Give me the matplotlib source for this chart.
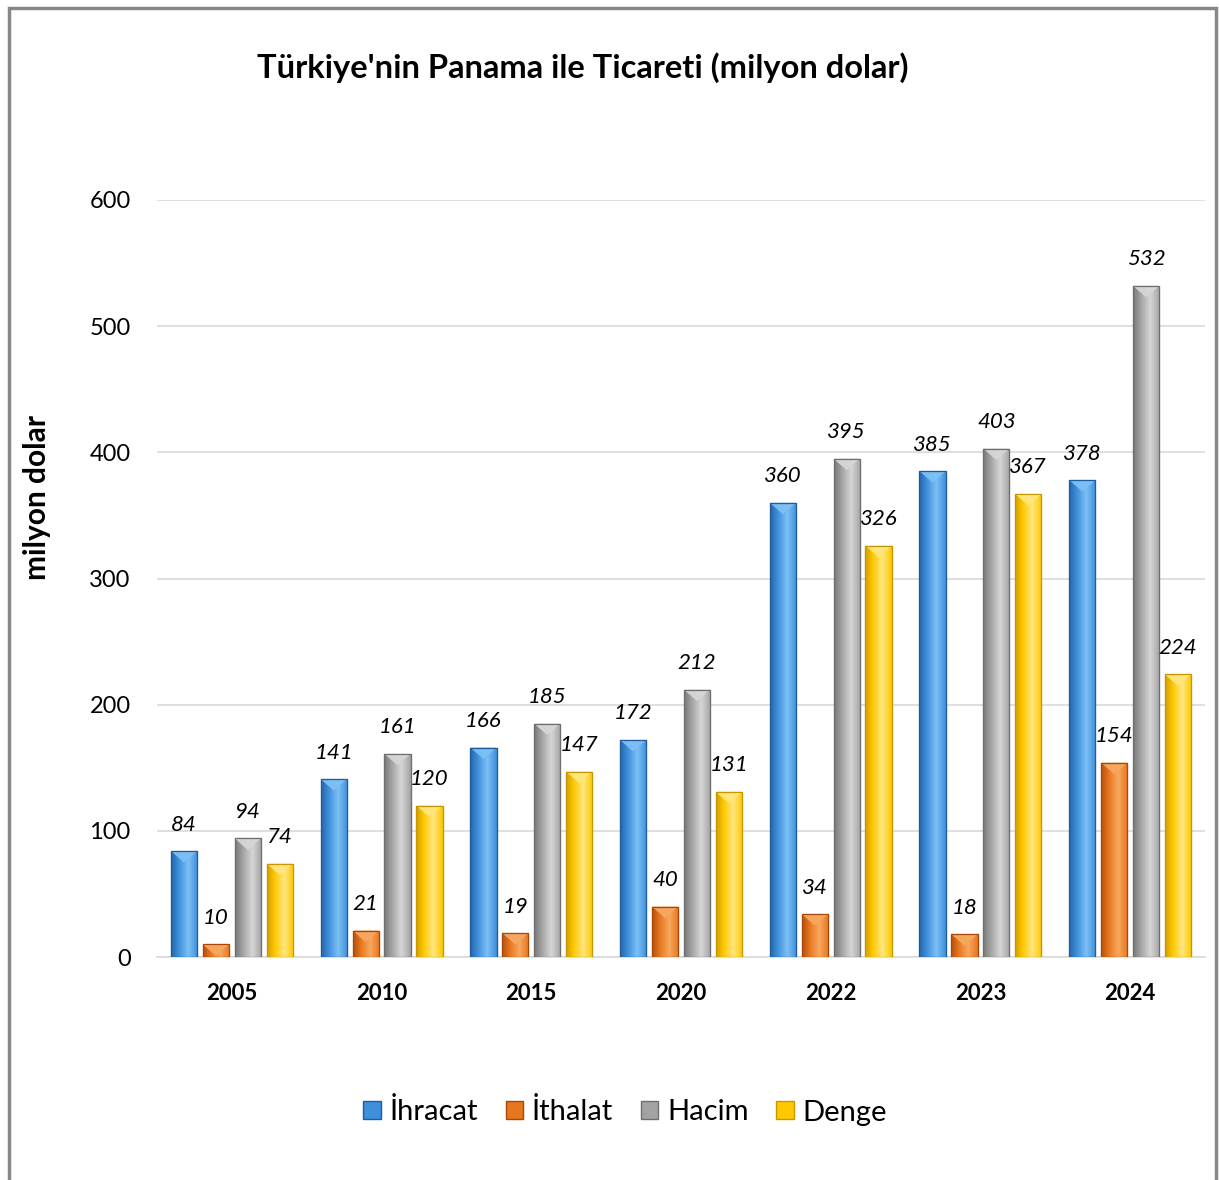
import numpy as np
import matplotlib.pyplot as plt
from matplotlib.patches import Rectangle, Polygon
from matplotlib.colors import LinearSegmentedColormap

years = ["2005", "2010", "2015", "2020", "2022", "2023", "2024"]
ihracat = [84, 141, 166, 172, 360, 385, 378]
ithalat = [10, 21, 19, 40, 34, 18, 154]
hacim = [94, 161, 185, 212, 395, 403, 532]
denge = [74, 120, 147, 131, 326, 367, 224]

series_names = ["İhracat", "İthalat", "Hacim", "Denge"]
series_vals = [ihracat, ithalat, hacim, denge]
# (dark edge, mid, light) for each series
palettes = [
    ("#1f5c9e", "#3f8fdb", "#7cc0f5"),
    ("#a8470a", "#e8761e", "#f7a860"),
    ("#6e6e6e", "#a3a3a3", "#d6d6d6"),
    ("#c79600", "#ffc800", "#ffe680"),
]

plt.rcParams['font.family'] = ['Lato', 'DejaVu Sans']

fig = plt.figure(figsize=(12.19, 11.8), dpi=100)
ax = fig.add_axes([157 / 1219, 1 - 957 / 1180, 1048 / 1219, 757 / 1180])

x = np.arange(len(years))
width = 0.175
pitch = 0.213

for i, (name, vals, pal) in enumerate(zip(series_names, series_vals, palettes)):
    dark, mid, light = pal
    cmap = LinearSegmentedColormap.from_list(name, [dark, mid, light, mid, dark])
    offs = (i - 1.5) * pitch
    bars = ax.bar(x + offs, vals, width, color=mid, edgecolor=dark, linewidth=0.8,
                  label=name, zorder=3)
    for b, v in zip(bars, vals):
        x0 = b.get_x()
        grad = np.linspace(0.05, 0.75, 64).reshape(1, -1)
        im = ax.imshow(grad, cmap=cmap, vmin=0, vmax=1, aspect='auto',
                       extent=(x0, x0 + width, 0, v), zorder=3.5)
        im.set_clip_path(b)
        # bevel at top of bar
        bev = 6.5
        tri = Polygon([(x0, v), (x0 + width, v), (x0 + width / 2, v - bev * 1.4)],
                      closed=True, facecolor=light, edgecolor='none', alpha=0.95, zorder=4)
        ax.add_patch(tri)
        ax.add_patch(Rectangle((x0, 0), width, v, fill=False, edgecolor=dark,
                               linewidth=0.9, zorder=4.5))
        ax.text(x0 + width / 2, v + 21, str(v), ha='center', va='center',
                fontsize=16, style='italic', color='black', zorder=5)

ax.set_xlim(-0.5, len(years) - 0.5)
ax.set_ylim(0, 600)
ax.set_yticks(range(0, 601, 100))
ax.set_xticks(x)
ax.set_xticklabels(years, fontsize=16, fontweight='bold')
ax.tick_params(axis='y', labelsize=17, length=0, pad=19)
ax.tick_params(axis='x', length=0, pad=19)
ax.grid(axis='y', color='#d9d9d9', linewidth=1.2, zorder=0)
for s in ['top', 'right', 'left']:
    ax.spines[s].set_visible(False)
ax.spines['bottom'].set_color('#d9d9d9')
ax.spines['bottom'].set_linewidth(1.2)
ax.set_axisbelow(True)

fig.text(583 / 1219, 1 - 68 / 1180, "Türkiye'nin Panama ile Ticareti (milyon dolar)",
         ha='center', va='center', fontsize=23.5, fontweight='bold')
fig.text(37 / 1219, 1 - 497 / 1180, "milyon dolar", rotation=90, ha='center',
         va='center', fontsize=21.5, fontweight='bold')

handles = [Rectangle((0, 0), 1, 1, facecolor=p[1], edgecolor=p[0]) for p in palettes]
fig.legend(handles, series_names, loc='center', bbox_to_anchor=(625 / 1219, 1 - 1112 / 1180),
           ncol=4, frameon=False, fontsize=21, handlelength=0.6, handleheight=0.6,
           handletextpad=0.3, columnspacing=0.95)

# outer frame
fig.add_artist(Rectangle((9 / 1219, -0.05), 1207 / 1219, 1.05 - 8 / 1180,
                         transform=fig.transFigure, fill=False,
                         edgecolor='#888888', linewidth=2.5))

fig.savefig("out.png", dpi=100)
